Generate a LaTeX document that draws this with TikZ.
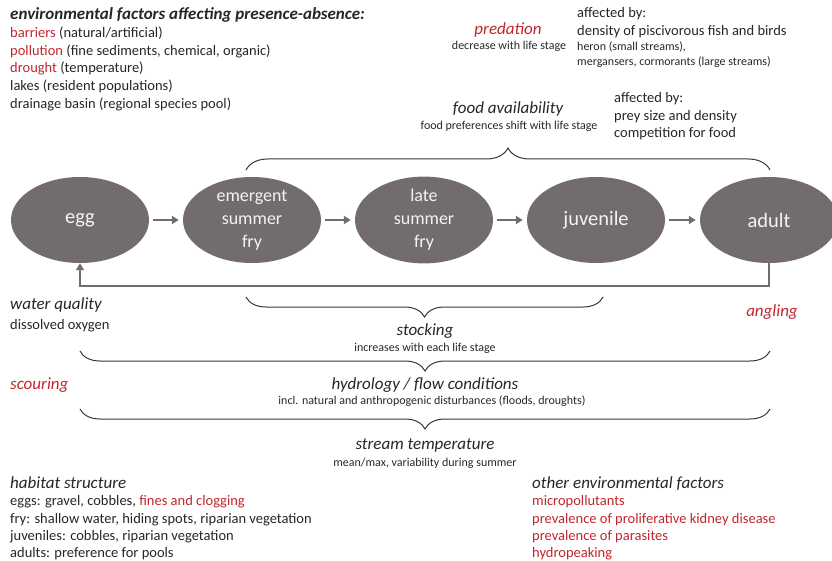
\documentclass[tikz,border=0pt]{standalone}
\usepackage{fontspec}
\setmainfont{Carlito}
\usetikzlibrary{shapes.geometric,arrows.meta,decorations.pathreplacing}
\definecolor{stagefill}{RGB}{115,108,108}
\definecolor{ink}{RGB}{38,38,38}
\definecolor{alert}{RGB}{192,38,45}
\definecolor{bracecol}{RGB}{55,55,55}

\begin{document}
\begin{tikzpicture}[x=1pt,y=-1pt,
  stagenode/.style={ellipse, fill=stagefill, minimum width=138pt, minimum height=86pt,
    inner sep=0pt, text=white!92!stagefill, align=center,
    font=\fontsize{18}{23}\selectfont},
  oneword/.style={font=\fontsize{20.5}{23}\selectfont},
  stepflow/.style={draw=stagefill, line width=2.6pt,
    -{Triangle[length=7pt,width=8pt]}, shorten <=4pt, shorten >=4pt},
  loopflow/.style={draw=stagefill, line width=2.6pt,
    -{Triangle[length=7pt,width=8pt]}},
  bracetop/.style={draw=bracecol, line width=1pt,
    decorate, decoration={brace, amplitude=22pt, aspect=0.5}},
  bracelow/.style={draw=bracecol, line width=1pt,
    decorate, decoration={brace, amplitude=20pt, aspect=0.5}},
  txt/.style={inner sep=0pt, text=ink, font=\fontsize{14.5}{17}\selectfont},
  lefttxt/.style={txt, anchor=base west},
  smalltxt/.style={txt, font=\fontsize{12}{14}\selectfont},
  head/.style={txt, font=\fontsize{17}{20}\selectfont\itshape},
  red/.style={text=alert}
]
\useasboundingbox (0,0) rectangle (832,561);

% life stages
\node[stagenode, oneword] (egg) at (80,220) {egg};
\node[stagenode] (emerg) at (252,220) {emergent\\summer\\fry};
\node[stagenode] (late) at (424,220) {late\\summer\\fry};
\node[stagenode, oneword] (juv) at (596,220) {juvenile};
\node[stagenode, oneword] (adult) at (769,220) {adult};

\draw[stepflow] (egg) -- (emerg);
\draw[stepflow] (emerg) -- (late);
\draw[stepflow] (late) -- (juv);
\draw[stepflow] (juv) -- (adult);

% reproduction loop back to the egg
\coordinate (loopy) at (0,286);
\draw[loopflow] (adult.south) -- (adult.south |- loopy) -| (egg.south);

% braces
\coordinate (fa1) at (246,170);
\coordinate (fa2) at (770,170);
\draw[bracetop] (fa1) -- (fa2);

\coordinate (st1) at (603,297);
\coordinate (st2) at (246,297);
\draw[bracelow] (st1) -- (st2);

\coordinate (hy1) at (770,351);
\coordinate (hy2) at (80,351);
\draw[bracelow] (hy1) -- (hy2);

\coordinate (te1) at (770,409);
\coordinate (te2) at (80,409);
\draw[bracelow] (te1) -- (te2);

% presence-absence factors
\node[lefttxt, font=\fontsize{17}{19}\selectfont\bfseries\itshape] (envtitle) at (10,19.5)
  {environmental factors affecting presence-absence:};
\node[lefttxt] (env1) at (10,37.3) {\textcolor{alert}{barriers} (natural/artificial)};
\node[lefttxt] (env2) at (10,55.1) {\textcolor{alert}{pollution} (fine sediments, chemical, organic)};
\node[lefttxt] (env3) at (10,72.9) {\textcolor{alert}{drought} (temperature)};
\node[lefttxt] (env4) at (10,90.7) {lakes (resident populations)};
\node[lefttxt] (env5) at (10,108.5) {drainage basin (regional species pool)};

% predation
\node[head, red, anchor=base] (pred) at (508,35) {predation};
\node[smalltxt, anchor=base] (predsub) at (509,50) {decrease with life stage};
\node[lefttxt] (pa0) at (577,18) {affected by:};
\node[lefttxt] (pa1) at (577,36) {density of piscivorous fish and birds};
\node[smalltxt, anchor=base west] (pa2) at (577,51) {heron (small streams),};
\node[smalltxt, anchor=base west] (pa3) at (577,66) {mergansers, cormorants (large streams)};

% food
\node[head, anchor=base] (food) at (508,114) {food availability};
\node[smalltxt, anchor=base] (foodsub) at (509,130) {food preferences shift with life stage};
\node[lefttxt] (fa0) at (614,103) {affected by:};
\node[lefttxt] (fa1t) at (614,121) {prey size and density};
\node[lefttxt] (fa2t) at (614,138) {competition for food};

% water quality, angling
\node[head, anchor=base west] (wq) at (10,309) {water quality};
\node[lefttxt] (wqsub) at (10,329) {dissolved oxygen};
\node[head, red, anchor=base] (angl) at (772,316) {angling};

% stocking
\node[head, anchor=base] (stock) at (425,335) {stocking};
\node[smalltxt, anchor=base] (stocksub) at (425,351) {increases with each life stage};

% hydrology
\node[head, red, anchor=base west] (scour) at (10,389) {scouring};
\node[head, anchor=base] (hydro) at (425,389) {hydrology / flow conditions};
\node[smalltxt, anchor=base] (hydrosub) at (432,404) {incl. natural and anthropogenic disturbances (floods, droughts)};

% temperature
\node[head, anchor=base] (temp) at (425,449) {stream temperature};
\node[smalltxt, anchor=base] (tempsub) at (425,466) {mean/max, variability during summer};

% habitat structure
\node[head, anchor=base west] (hab) at (10,488) {habitat structure};
\node[lefttxt] (hab1) at (10,505) {eggs: gravel, cobbles, \textcolor{alert}{fines and clogging}};
\node[lefttxt] (hab2) at (10,523) {fry: shallow water, hiding spots, riparian vegetation};
\node[lefttxt] (hab3) at (10,540) {juveniles: cobbles, riparian vegetation};
\node[lefttxt] (hab4) at (10,557) {adults: preference for pools};

% other factors
\node[head, anchor=base west] (oth) at (532,488) {other environmental factors};
\node[lefttxt, red] (oth1) at (532,505) {micropollutants};
\node[lefttxt, red] (oth2) at (532,523) {prevalence of proliferative kidney disease};
\node[lefttxt, red] (oth3) at (532,540) {prevalence of parasites};
\node[lefttxt, red] (oth4) at (532,557) {hydropeaking};
\end{tikzpicture}
\end{document}
